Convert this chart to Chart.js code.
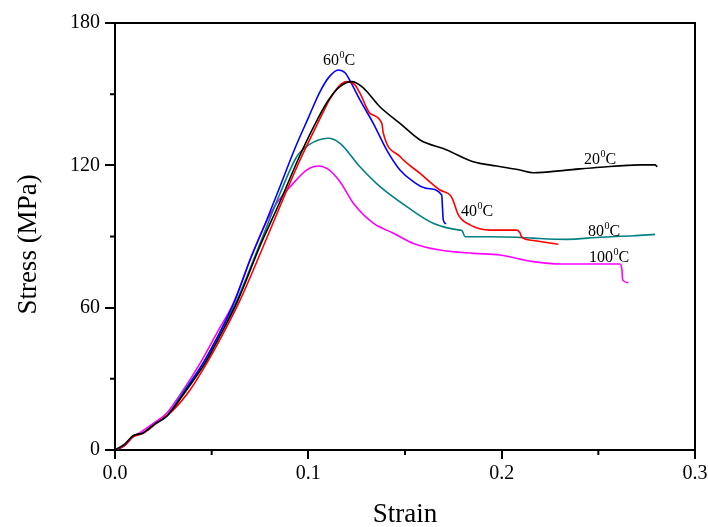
<!DOCTYPE html>
<html>
<head>
<meta charset="utf-8">
<script src="https://cdn.jsdelivr.net/npm/chart.js@4"></script>
<style>
  body { margin: 0; background: #fff; }
</style>
</head>
<body>
<canvas id="stress-chart" width="708" height="527"></canvas>
<script>
// Series data (strain, stress in MPa).
var strain20 = [0, 0.005, 0.0093, 0.0145, 0.0207, 0.027, 0.037, 0.0465, 0.055, 0.0635, 0.075, 0.085, 0.095, 0.1026, 0.11, 0.116, 0.1224, 0.128, 0.137, 0.1474, 0.1578, 0.1716, 0.1853, 0.1974, 0.2095, 0.2164, 0.2336, 0.2509, 0.2716, 0.2793, 0.2805];
var stress20 = [0, 2.5, 6, 7.2, 11, 14.5, 25.3, 36.5, 49.2, 63, 86, 104, 123, 136, 147, 153, 155.3, 153, 144.7, 137.7, 130.7, 126.5, 121.5, 119.7, 118, 116.9, 118, 119.2, 120.2, 120.2, 119.4];

var strain40 = [0, 0.005, 0.0093, 0.0145, 0.0207, 0.0302, 0.0388, 0.0474, 0.056, 0.0647, 0.0759, 0.085, 0.095, 0.1026, 0.108, 0.1112, 0.116, 0.1198, 0.124, 0.1267, 0.1319, 0.138, 0.1388, 0.1474, 0.1578, 0.1681, 0.1733, 0.1745, 0.1776, 0.1836, 0.194, 0.2078, 0.2095, 0.2104, 0.2164, 0.2293];
var stress40 = [0, 2, 5.5, 7, 10.8, 16.9, 25.3, 36.5, 49.2, 63.2, 84.3, 102, 121, 134, 143, 148, 153.5, 155.3, 154, 150.4, 141.9, 137.7, 133.5, 123.7, 116.6, 109.6, 107.5, 106, 99.1, 94.9, 92.7, 92.7, 91.5, 89.7, 88.3, 86.7];

var strain60 = [0, 0.005, 0.0093, 0.0145, 0.0207, 0.027, 0.0365, 0.0455, 0.054, 0.062, 0.0698, 0.078, 0.0853, 0.093, 0.1, 0.106, 0.111, 0.1155, 0.119, 0.122, 0.1267, 0.1336, 0.1405, 0.1474, 0.1543, 0.1612, 0.169, 0.1694, 0.1698, 0.1712];
var stress60 = [0, 2, 5.8, 7.2, 11, 14.5, 25.3, 36.5, 49.2, 63, 80, 96, 111, 127, 140, 151, 157.5, 160.2, 159, 155, 147.6, 137.7, 126.5, 118, 113.1, 110.3, 107.5, 102, 97, 95.3];

var strain80 = [0, 0.005, 0.0093, 0.0145, 0.0207, 0.027, 0.036, 0.0455, 0.054, 0.063, 0.075, 0.0853, 0.094, 0.1, 0.1103, 0.1164, 0.1267, 0.1371, 0.1509, 0.1646, 0.1784, 0.1795, 0.181, 0.194, 0.2078, 0.2164, 0.2336, 0.2509, 0.2681, 0.2793];
var stress80 = [0, 2, 5.8, 7.2, 11, 14.5, 25.3, 36.5, 49.2, 63, 87, 108, 123.6, 128.5, 131.4, 129.3, 119.4, 111, 102.6, 95.6, 92.7, 92.5, 89.9, 89.9, 89.7, 89.3, 88.8, 89.7, 90.3, 90.9];

var strain100 = [0, 0.005, 0.0093, 0.0129, 0.0198, 0.0267, 0.0353, 0.044, 0.0526, 0.0612, 0.0707, 0.077, 0.0836, 0.0922, 0.0991, 0.1052, 0.11, 0.1164, 0.1233, 0.1336, 0.144, 0.1543, 0.1681, 0.1853, 0.1991, 0.2164, 0.2302, 0.2612, 0.2622, 0.2626, 0.2655];
var stress100 = [0, 2, 5.5, 7.3, 11.2, 15.5, 25.3, 36.5, 49.2, 61.8, 82, 94, 104, 112.4, 118, 119.7, 118.5, 113.1, 104, 95.6, 91.4, 87.1, 84.3, 82.9, 82.2, 79.4, 78.4, 78.4, 76, 71.7, 70.5];

// Axis ticks.
var xMajorTicks = [0, 0.1, 0.2, 0.3];
var xMinorTicks = [0.05, 0.15, 0.25];
var yMajorTicks = [0, 60, 120, 180];
var yMinorTicks = [30, 90, 150];

// Curve labels: temperature text and anchor in data units (strain, stress).
var labelTemps = ["60", "20", "40", "80", "100"];
var labelStrain = [0.1076, 0.2426, 0.179, 0.2447, 0.2452];
var labelStress = [162.3, 120.6, 98.7, 90.2, 79.4];

function toPoints(xs, ys) {
  return xs.map(function (x, i) {
    return { x: x, y: ys[i] };
  });
}

function makeSet(label, xs, ys, color) {
  return {
    label: label,
    data: toPoints(xs, ys),
    borderColor: color,
    backgroundColor: color,
    borderWidth: 1.6,
    pointRadius: 0,
    fill: false,
    cubicInterpolationMode: "monotone",
  };
}

var serif = "'Liberation Serif', 'Times New Roman', serif";

// Frame, minor ticks, axis titles and curve labels.
var decorPlugin = {
  id: "decor",
  afterDraw: function (chart) {
    var ctx = chart.ctx;
    var area = chart.chartArea;
    var xs = chart.scales.x;
    var ys = chart.scales.y;
    ctx.save();
    ctx.strokeStyle = "#000";
    ctx.lineWidth = 2;
    ctx.beginPath();
    ctx.moveTo(area.left, area.top);
    ctx.lineTo(area.right, area.top);
    ctx.lineTo(area.right, area.bottom);
    ctx.stroke();

    ctx.beginPath();
    xMinorTicks.forEach(function (v) {
      var px = xs.getPixelForValue(v);
      ctx.moveTo(px, area.bottom);
      ctx.lineTo(px, area.bottom + 5);
    });
    yMinorTicks.forEach(function (v) {
      var py = ys.getPixelForValue(v);
      ctx.moveTo(area.left - 5, py);
      ctx.lineTo(area.left, py);
    });
    ctx.stroke();

    // Axis titles.
    ctx.fillStyle = "#000";
    ctx.font = "27px " + serif;
    ctx.textAlign = "center";
    ctx.textBaseline = "alphabetic";
    ctx.fillText("Strain", (area.left + area.right) / 2, 522);
    ctx.save();
    ctx.translate(36, (area.top + area.bottom) / 2 + 8);
    ctx.rotate(-Math.PI / 2);
    ctx.fillText("Stress (MPa)", 0, 0);
    ctx.restore();

    // Temperature labels with superscript degree zero.
    ctx.textAlign = "left";
    labelTemps.forEach(function (t, i) {
      var px = xs.getPixelForValue(labelStrain[i]);
      var py = ys.getPixelForValue(labelStress[i]);
      ctx.font = "16px " + serif;
      ctx.fillText(t, px, py);
      var w = ctx.measureText(t).width;
      ctx.font = "10px " + serif;
      ctx.fillText("0", px + w + 0.5, py - 7);
      var w2 = ctx.measureText("0").width;
      ctx.font = "16px " + serif;
      ctx.fillText("C", px + w + w2 + 0.5, py);
    });
    ctx.restore();
  },
};

var ctx = document.getElementById("stress-chart").getContext("2d");
var stressChart = new Chart(ctx, {
  type: "line",
  data: {
    datasets: [
      makeSet("20°C", strain20, stress20, "#000000"),
      makeSet("40°C", strain40, stress40, "#ff0000"),
      makeSet("60°C", strain60, stress60, "#0000ff"),
      makeSet("80°C", strain80, stress80, "#008080"),
      makeSet("100°C", strain100, stress100, "#ff00ff"),
    ],
  },
  options: {
    responsive: false,
    animation: false,
    layout: {
      padding: { left: 0, right: 13, top: 23, bottom: 0 },
    },
    plugins: {
      legend: { display: false },
      tooltip: { enabled: false },
    },
    scales: {
      x: {
        type: "linear",
        min: 0,
        max: 0.3,
        afterBuildTicks: function (scale) {
          scale.ticks = xMajorTicks.map(function (v) {
            return { value: v };
          });
        },
        afterFit: function (scale) {
          scale.height = 77;
          scale.paddingLeft = 0;
          scale.paddingRight = 0;
        },
        ticks: {
          color: "#000",
          font: { family: serif, size: 20 },
          padding: 3,
          maxRotation: 0,
          callback: function (v) {
            return Number(v).toFixed(1);
          },
        },
        grid: {
          drawOnChartArea: false,
          drawTicks: true,
          tickLength: 9,
          color: "#000",
          lineWidth: 2,
        },
        border: { display: true, color: "#000", width: 2 },
      },
      y: {
        type: "linear",
        min: 0,
        max: 180,
        afterBuildTicks: function (scale) {
          scale.ticks = yMajorTicks.map(function (v) {
            return { value: v };
          });
        },
        afterFit: function (scale) {
          scale.width = 115;
          scale.paddingTop = 0;
          scale.paddingBottom = 0;
        },
        ticks: {
          color: "#000",
          font: { family: serif, size: 20 },
          padding: 5,
        },
        grid: {
          drawOnChartArea: false,
          drawTicks: true,
          tickLength: 10,
          color: "#000",
          lineWidth: 2,
        },
        border: { display: true, color: "#000", width: 2 },
      },
    },
  },
  plugins: [decorPlugin],
});
</script>
</body>
</html>
